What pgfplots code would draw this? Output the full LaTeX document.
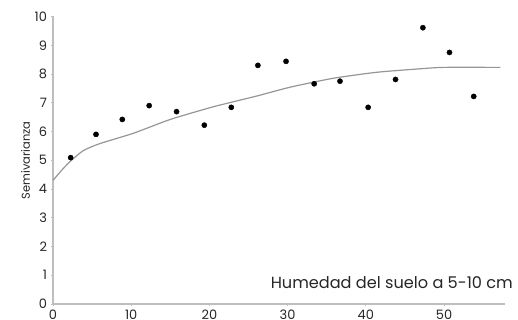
\documentclass[border=0pt]{standalone}
\usepackage{fontspec}
\setmainfont{Poppins}
\usepackage{pgfplots}
\pgfplotsset{compat=1.18}
\definecolor{axgray}{RGB}{190,190,190}
\definecolor{fitgray}{RGB}{150,150,150}
\begin{document}
\begin{tikzpicture}
\begin{axis}[
  name=ax,
  scale only axis,
  width=452bp, height=287.5bp,
  xmin=0, xmax=57.8, ymin=0, ymax=10,
  axis lines=left,
  axis line style={axgray, line width=2bp, -},
  xtick={0,10,...,50}, ytick={0,1,...,10},
  tick style={axgray, line width=0.8bp},
  major tick length=3bp,
  tick align=center,
  /pgf/number format/assume math mode=true,
  ticklabel style={font=\fontsize{13}{15}\selectfont, text=black!85},
  xticklabel style={yshift=-0.5bp},
  yticklabel style={xshift=-1bp},
  ylabel={Semivarianza},
  ylabel style={font=\fontsize{11.5}{13}\selectfont, text=black!85, yshift=-2bp},
  clip=false,
]
% fitted semivariogram model
\addplot[fitgray, line width=1.2bp, smooth, tension=0.35] coordinates {
  (0,4.3) (1.2,4.68) (2.2,4.96) (3.9,5.34) (6,5.58) (10.3,5.94) (15,6.42)
  (20.5,6.86) (26,7.23) (30.3,7.54) (35.8,7.85) (41.4,8.06) (46.9,8.18)
  (49.9,8.23) (57.2,8.23)
};
% experimental semivariance
\addplot[only marks, mark=*, mark size=2.6bp, mark options={fill=black, draw=black}] coordinates {
  (2.26,5.09) (5.5,5.9) (8.86,6.42) (12.3,6.9) (15.8,6.69) (19.35,6.22)
  (22.8,6.84) (26.2,8.3) (29.8,8.44) (33.4,7.66) (36.7,7.75) (40.3,6.84)
  (43.8,7.81) (47.3,9.61) (50.7,8.75) (53.8,7.22)
};
\end{axis}
\node[anchor=base east, fill=white, inner sep=2bp, text=black!85, font=\fontsize{16.2}{18}\selectfont]
  at ([shift={(10bp,15.7bp)}]ax.south east) {Humedad del suelo a 5-10 cm};
\pgfresetboundingbox
\path[use as bounding box] ([shift={(-53bp,-16bp)}]ax.south west) rectangle ([shift={(465bp,304bp)}]ax.south west);
\end{tikzpicture}
\end{document}
